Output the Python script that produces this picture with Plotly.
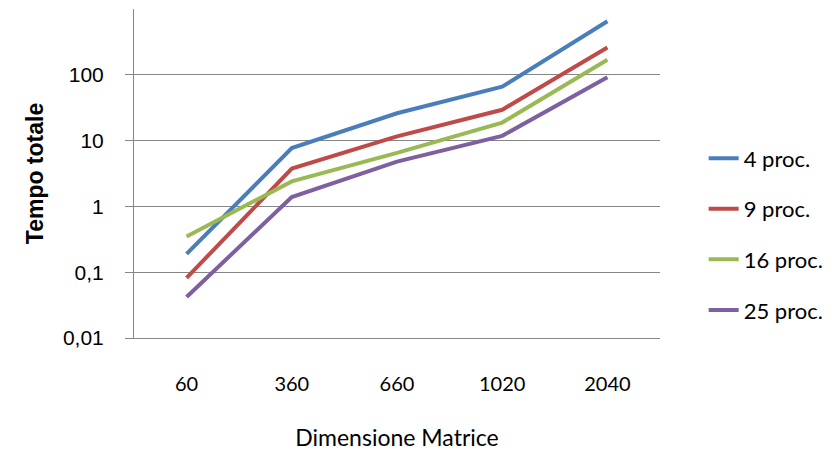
import plotly.graph_objects as go

categories = ["60", "360", "660", "1020", "2040"]
series_names = ["4 proc.", "9 proc.", "16 proc.", "25 proc."]
proc4 = [0.19, 7.7, 26, 66, 650]
proc9 = [0.082, 3.75, 11.6, 29.4, 260]
proc16 = [0.35, 2.4, 6.5, 18.8, 169]
proc25 = [0.042, 1.39, 4.8, 11.8, 92]
y_ticks = [0.01, 0.1, 1, 10, 100]
y_tick_labels = ["0,01", "0,1", "1", "10", "100"]

colors = ["#4A7EBB", "#BE4B48", "#98B954", "#7D60A0"]

fig = go.Figure()
for i, (name, vals) in enumerate(zip(series_names, [proc4, proc9, proc16, proc25])):
    fig.add_trace(go.Scatter(
        x=categories, y=vals, name=name, mode="lines",
        line=dict(color=colors[i], width=4),
        legendgroup=name,
    ))

fig.update_layout(
    width=834, height=452,
    margin=dict(l=126, r=182, t=1, b=122),
    paper_bgcolor="white", plot_bgcolor="white",
    showlegend=True,
    legend=dict(
        x=1.083, xanchor="left", y=0.315, yanchor="middle",
        xref="paper", yref="paper",
        font=dict(family="Lato", size=22, color="#000"),
        tracegroupgap=19, bgcolor="rgba(0,0,0,0)",
    ),
    xaxis=dict(
        type="category", range=[-0.5, 4.5], automargin=False,
        showgrid=False, showline=True, linecolor="#868686",
        linewidth=1, ticks="", tickfont=dict(family="Lato", size=20, color="#000"),
        ticklabelstandoff=28,
        title=dict(text="Dimensione Matrice", font=dict(family="Lato", size=23, color="#000"), standoff=35),
    ),
    yaxis=dict(
        type="log", range=[-2, 3], tickvals=y_ticks, ticktext=y_tick_labels,
        automargin=False,
        showgrid=True, gridcolor="#868686", gridwidth=1,
        showline=True, linecolor="#868686", linewidth=1,
        ticks="outside", ticklen=8, tickcolor="#868686",
        tickfont=dict(family="Liberation Sans", size=21, color="#000"),
        ticklabelstandoff=17,
        zeroline=False,
        title=dict(text="<b>Tempo totale</b>", font=dict(family="Liberation Sans", size=23, color="#000"), standoff=12),
    ),
)

fig.write_html("out.html")
